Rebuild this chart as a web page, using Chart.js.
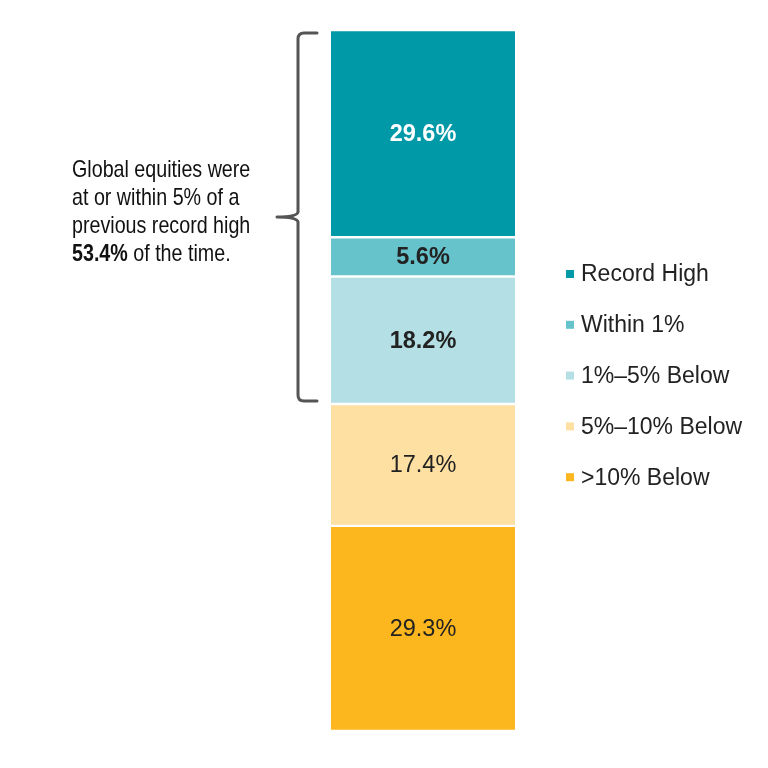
<!DOCTYPE html>
<html><head><meta charset="utf-8">
<script src="https://cdn.jsdelivr.net/npm/chart.js@4.4.1/dist/chart.umd.min.js"></script>
<style>html,body{margin:0;padding:0;background:#fff}#wrap{width:768px;height:768px}</style>
</head><body><div id="wrap"><canvas id="c" width="768" height="768"></canvas></div>
<script>
const categories = ["Global equities"];
const seriesNames = [">10% Below", "5%\u201310% Below", "1%\u20135% Below", "Within 1%", "Record High"];
const seriesValues = [29.3, 17.4, 18.2, 5.6, 29.6];
const seriesColors = ["#FDB71E", "#FEE0A2", "#B4DFE4", "#66C2CB", "#0099A8"];
const labelColors = ["#222222", "#222222", "#222222", "#222222", "#FFFFFF"];
const labelBold = [false, false, true, true, true];
const annotationLines = ["Global equities were", "at or within 5% of a", "previous record high"];
const annotationBold = "53.4%";
const annotationTail = " of the time.";

const FONT = 'Arial, "Liberation Sans", Helvetica, sans-serif';
const total = seriesValues.reduce((a, b) => a + b, 0);

const extras = {
  id: 'extras',
  afterDatasetsDraw(chart) {
    const ctx = chart.ctx;
    chart.data.datasets.forEach((ds, i) => {
      const el = chart.getDatasetMeta(i).data[0];
      const cy = (el.y + el.base) / 2;
      ctx.save();
      ctx.fillStyle = labelColors[i];
      ctx.font = (labelBold[i] ? 'bold ' : '') + '23.5px ' + FONT;
      ctx.textAlign = 'center';
      ctx.textBaseline = 'middle';
      ctx.fillText(ds.data[0].toFixed(1) + '%', el.x, cy + 1);
      ctx.restore();
    });
    const legX = 566, legY0 = 274, legStep = 50.8;
    for (let k = 0; k < seriesNames.length; k++) {
      const i = seriesNames.length - 1 - k;
      const y = legY0 + k * legStep;
      ctx.save();
      ctx.fillStyle = seriesColors[i];
      ctx.fillRect(legX, y - 4, 8, 8);
      ctx.fillStyle = '#222222';
      ctx.font = '23px ' + FONT;
      ctx.textBaseline = 'middle';
      ctx.textAlign = 'left';
      ctx.fillText(seriesNames[i], legX + 15, y + 1);
      ctx.restore();
    }
    const yScale = chart.scales.y;
    const topY = yScale.getPixelForValue(total) + 3;
    const botY = yScale.getPixelForValue(seriesValues[0] + seriesValues[1]) - 3;
    const midY = (topY + botY) / 2;
    const xr = 317, xv = 298, xt = 277;
    ctx.save();
    ctx.strokeStyle = '#555555';
    ctx.lineWidth = 3;
    ctx.lineCap = 'round';
    ctx.lineJoin = 'round';
    ctx.beginPath();
    ctx.moveTo(xr, topY);
    ctx.lineTo(xv + 6, topY);
    ctx.quadraticCurveTo(xv, topY, xv, topY + 6);
    ctx.lineTo(xv, midY - 5);
    ctx.quadraticCurveTo(xv - 1, midY, xt, midY);
    ctx.quadraticCurveTo(xv - 1, midY, xv, midY + 5);
    ctx.lineTo(xv, botY - 6);
    ctx.quadraticCurveTo(xv, botY, xv + 6, botY);
    ctx.lineTo(xr, botY);
    ctx.stroke();
    ctx.restore();
    // annotation text (condensed Arial)
    ctx.save();
    ctx.fillStyle = '#111111';
    ctx.textBaseline = 'middle';
    ctx.textAlign = 'left';
    const tx = 72, ty0 = 170, lh = 28, sx = 0.82;
    ctx.translate(tx, 0);
    ctx.scale(sx, 1);
    ctx.font = '24px ' + FONT;
    annotationLines.forEach((t, j) => ctx.fillText(t, 0, ty0 + j * lh));
    const y4 = ty0 + 3 * lh;
    ctx.font = 'bold 24px ' + FONT;
    ctx.fillText(annotationBold, 0, y4);
    const w = ctx.measureText(annotationBold).width;
    ctx.font = '24px ' + FONT;
    ctx.fillText(annotationTail, w, y4);
    ctx.restore();
  }
};

new Chart(document.getElementById('c'), {
  type: 'bar',
  data: {
    labels: categories,
    datasets: seriesNames.map((n, i) => ({
      label: n,
      data: [seriesValues[i]],
      backgroundColor: seriesColors[i],
      borderColor: '#FFFFFF',
      borderWidth: {top: 1.5, bottom: 1.5, left: 0, right: 0},
      borderSkipped: false,
      barPercentage: 1,
      categoryPercentage: 1
    }))
  },
  options: {
    responsive: false,
    animation: false,
    devicePixelRatio: 1,
    layout: {padding: {left: 331, right: 253, top: 30, bottom: 37}},
    plugins: {legend: {display: false}, tooltip: {enabled: false}},
    scales: {
      x: {stacked: true, display: false},
      y: {stacked: true, display: false, min: 0, max: total}
    }
  },
  plugins: [extras]
});
</script></body></html>
